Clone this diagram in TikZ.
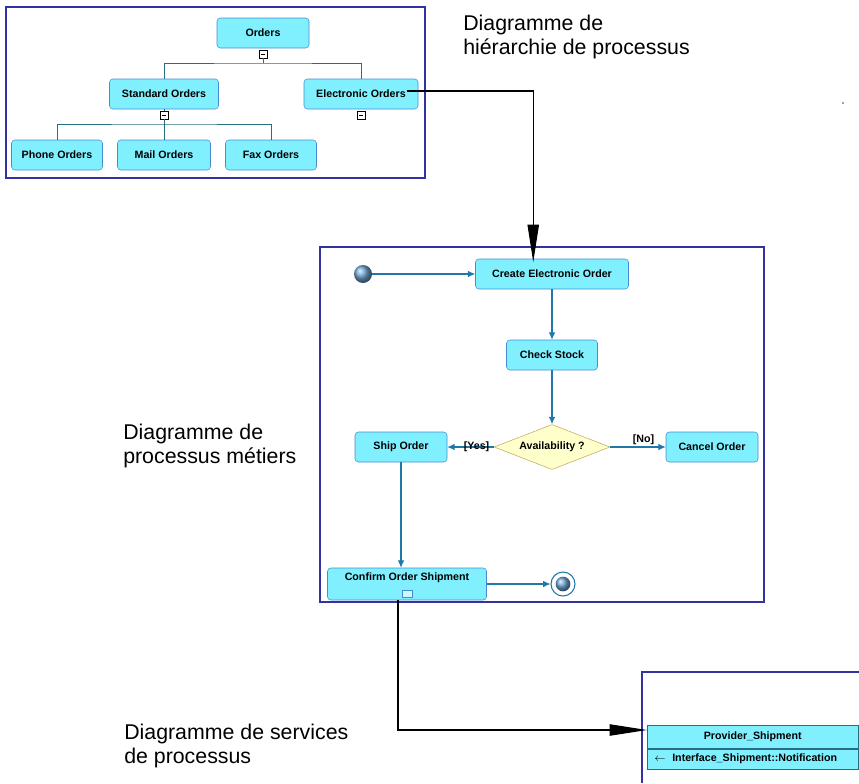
\documentclass[tikz,border=0pt]{standalone}
\usepackage{fontspec}
\setmainfont{Liberation Sans}
\usetikzlibrary{positioning,arrows.meta,shapes.geometric}

\definecolor{boxfill}{RGB}{128,240,255}
\definecolor{boxline}{RGB}{70,140,210}
\definecolor{treeline}{RGB}{40,110,130}
\definecolor{flowline}{RGB}{30,120,170}
\definecolor{framec}{RGB}{50,50,160}
\definecolor{decfill}{RGB}{255,255,204}
\definecolor{decline}{RGB}{190,170,90}
\definecolor{ballc}{RGB}{110,165,210}

\tikzset{
  proc/.style={draw=boxline, fill=boxfill, rounded corners=2.5pt,
    minimum height=22.5pt, inner sep=1pt,
    font=\fontsize{8}{9}\selectfont\bfseries},
  expander/.style={draw=black, fill=white, minimum size=6pt, inner sep=0pt,
    line width=0.6pt,
    path picture={\draw[line width=0.6pt]
      ([xshift=-1.6pt]path picture bounding box.center) --
      ([xshift=1.6pt]path picture bounding box.center);}},
  tree/.style={draw=treeline, line width=0.6pt},
  flow/.style={draw=flowline, line width=0.8pt, -{Latex[length=5.5pt,width=5pt]}},
  link/.style={draw=black, line width=0.8pt, -{Triangle[length=28pt,width=8.5pt]}},
  pane/.style={draw=framec, line width=0.9pt},
  guard/.style={font=\fontsize{8}{9}\selectfont\bfseries, inner sep=1pt},
  caption/.style={font=\fontsize{16}{17.5}\selectfont, align=left,
    anchor=base west, inner sep=0pt},
  startdot/.style={circle, shading=ball, ball color=ballc, inner sep=0pt}
}

\begin{document}
\begin{tikzpicture}[x=0.75pt,y=-0.75pt]
  \useasboundingbox (0,0) rectangle (859,783);

  % frames
  \draw[pane] (6,7) rectangle (425,178);
  \draw[pane] (320,247) rectangle (764,602);
  \draw[pane] (642,783) -- (642,672) -- (859,672);
  \fill[framec] (843,103) circle (0.7pt);

  % process hierarchy
  \node[proc, minimum width=69pt] (orders) at (263,33) {Orders};
  \node[proc, minimum width=81.75pt] (std) at (164,94) {Standard Orders};
  \node[proc, minimum width=85.5pt] (elec) at (361,94) {Electronic Orders};
  \node[proc, minimum width=68.25pt] (phone) at (57,155) {Phone Orders};
  \node[proc, minimum width=69.75pt] (mail) at (164,155) {Mail Orders};
  \node[proc, minimum width=68.25pt] (fax) at (271,155) {Fax Orders};
  \node[expander] (om) at (263,54) {};
  \node[expander] (sm) at (164,115) {};
  \node[expander] (em) at (361,115) {};
  \coordinate (bar1) at (263,63);
  \coordinate (bar2) at (164,124);

  \draw[tree] (om.south) -- (bar1);
  \draw[tree] (std.north) |- (bar1) -| (elec.north);
  \draw[tree] (std.south) -- (sm.north);
  \draw[tree] (sm.south) -- (mail.north);
  \draw[tree] (phone.north) |- (bar2) -| (fax.north);

  % business process
  \node[startdot, minimum size=13.5pt] (start) at (363,274) {};
  \node[proc, minimum width=114.75pt] (create) at (552,274) {Create Electronic Order};
  \node[proc, minimum width=68.25pt] (check) at (552,355) {Check Stock};
  \node[diamond, aspect=2.6, draw=decline, fill=decfill, minimum width=87pt,
    minimum height=33.75pt, inner sep=0pt,
    font=\fontsize{8}{9}\selectfont\bfseries] (avail) at (552,447) {Availability ?};
  \node[proc, minimum width=69pt] (ship) at (401,447) {Ship Order};
  \node[proc, minimum width=69pt] (cancel) at (712,447) {Cancel Order};
  \node[proc, minimum width=119.25pt, text height=6pt, text depth=12pt, inner ysep=3pt]
    (conf) at (407,584) {Confirm Order Shipment};
  \node[draw=boxline, fill=boxfill!40!white, minimum width=7.5pt, minimum height=5pt,
    inner sep=0pt] (icon) at ([yshift=5pt]conf.south) {};
  \node[circle, draw=flowline, fill=white, line width=0.8pt, minimum size=18pt,
    inner sep=0pt] (end) at (563,584) {};
  \node[startdot, minimum size=11pt] (endcore) at (end) {};

  \draw[flow] (start) -- (create);
  \draw[flow] (create) -- (check);
  \draw[flow] (check) -- (avail);
  \draw[flow] (avail) -- node[guard, pos=0.085, anchor=east, inner sep=0pt] {[Yes]} (ship);
  \draw[flow] (avail) -- node[guard, pos=0.6, above] {[No]} (cancel);
  \draw[flow] (ship) -- (ship.south |- conf.north);
  \draw[flow] (conf) -- (end);

  % process services
  \node[draw=treeline, fill=boxfill, minimum width=158.25pt, minimum height=17.25pt,
    inner sep=0pt, anchor=north west, font=\fontsize{8}{9}\selectfont\bfseries]
    (prov) at (647,725) {Provider\_Shipment};
  \node[draw=treeline, fill=boxfill, text width=147.75pt, minimum height=15pt,
    inner xsep=5.25pt, inner ysep=0pt, align=left, anchor=north west,
    font=\fontsize{8}{9}\selectfont\bfseries]
    (iface) at (prov.south west) {$\leftarrow$\hspace{5pt}Interface\_Shipment::Notification};

  % links between diagrams
  \draw[link, shorten >=-2.5pt] ([xshift=-8.25pt,yshift=2.25pt]elec.east)
    -| ([xshift=43.5pt]create.north west);
  \draw[link] ([xshift=-6.75pt]conf.south) |- ([yshift=-3.75pt]prov.north west);

  % captions
  \node[caption] (capH) at (463,54) {Diagramme de\\hiérarchie de processus};
  \node[caption] (capP) at (123,463) {Diagramme de\\processus métiers};
  \node[caption] (capS) at (124,763) {Diagramme de services\\de processus};
\end{tikzpicture}
\end{document}
